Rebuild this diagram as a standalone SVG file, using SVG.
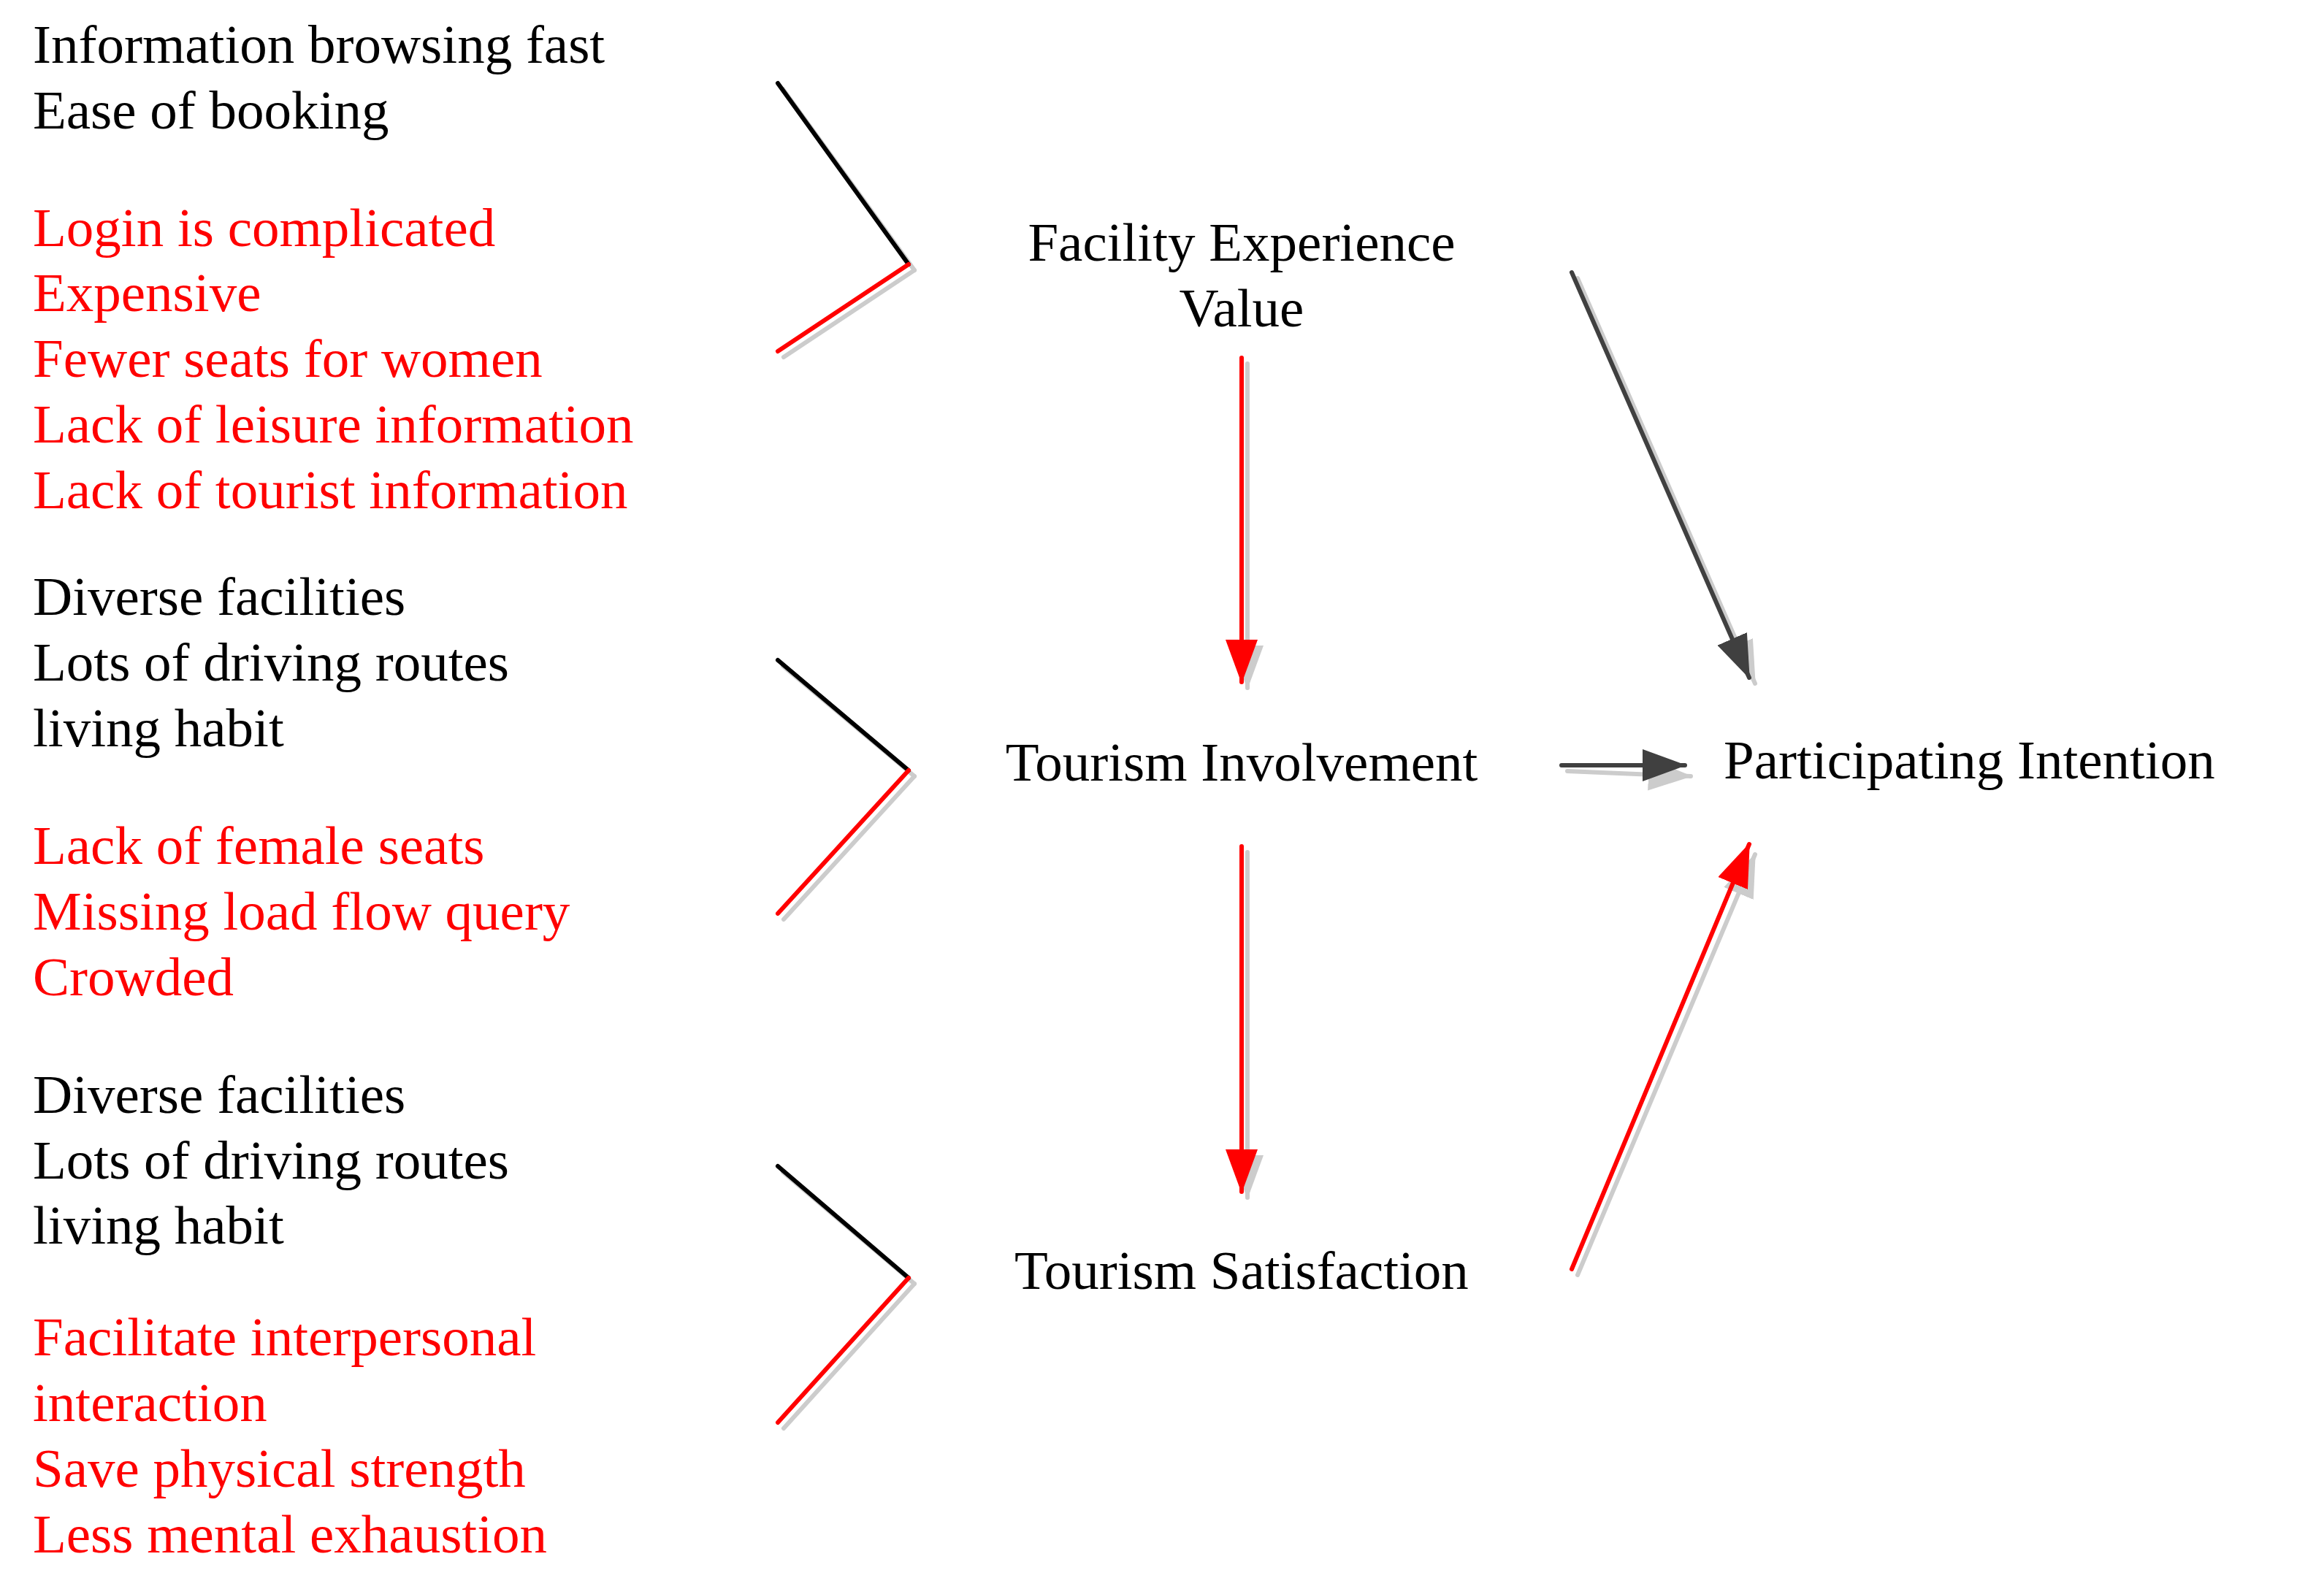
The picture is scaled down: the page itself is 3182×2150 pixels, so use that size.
<svg xmlns="http://www.w3.org/2000/svg" width="3182" height="2150" viewBox="0 0 3182 2150">
<style>
text{font-family:"Liberation Serif","Times New Roman",serif;font-size:75px}
.k{fill:#000}.r{fill:#ff0000}.c{text-anchor:middle}
.ln{fill:none;stroke-width:6;stroke-linecap:round}
.sh{stroke:#cccccc}.bk{stroke:#000}.rd{stroke:#ff0000}.dg{stroke:#404040}
</style>
<defs>
<marker id="hr" markerUnits="userSpaceOnUse" viewBox="0 0 60 44" refX="58" refY="22" markerWidth="60" markerHeight="44" orient="auto"><path d="M0,0 L60,22 L0,44 z" fill="#ff0000"/></marker>
<marker id="hd" markerUnits="userSpaceOnUse" viewBox="0 0 60 44" refX="58" refY="22" markerWidth="60" markerHeight="44" orient="auto"><path d="M0,0 L60,22 L0,44 z" fill="#404040"/></marker>
<marker id="hs" markerUnits="userSpaceOnUse" viewBox="0 0 60 44" refX="58" refY="22" markerWidth="60" markerHeight="44" orient="auto"><path d="M0,0 L60,22 L0,44 z" fill="#cccccc"/></marker>
</defs>
<g id="block1">
<text x="45" y="86" class="k">Information browsing fast</text>
<text x="45" y="176" class="k">Ease of booking</text>
<text x="45" y="337" class="r">Login is complicated</text>
<text x="45" y="426" class="r">Expensive</text>
<text x="45" y="516" class="r">Fewer seats for women</text>
<text x="45" y="606" class="r">Lack of leisure information</text>
<text x="45" y="696" class="r">Lack of tourist information</text>
</g>
<g id="block2">
<text x="45" y="842" class="k">Diverse facilities</text>
<text x="45" y="932" class="k">Lots of driving routes</text>
<text x="45" y="1022" class="k">living habit</text>
<text x="45" y="1183" class="r">Lack of female seats</text>
<text x="45" y="1273" class="r">Missing load flow query</text>
<text x="45" y="1363" class="r">Crowded</text>
</g>
<g id="block3">
<text x="45" y="1524" class="k">Diverse facilities</text>
<text x="45" y="1614" class="k">Lots of driving routes</text>
<text x="45" y="1703" class="k">living habit</text>
<text x="45" y="1856" class="r">Facilitate interpersonal</text>
<text x="45" y="1946" class="r">interaction</text>
<text x="45" y="2036" class="r">Save physical strength</text>
<text x="45" y="2126" class="r">Less mental exhaustion</text>
</g>
<g id="facility"><text x="1700" y="357" class="k c">Facility Experience</text><text x="1700" y="447" class="k c">Value</text></g>
<g id="involvement"><text x="1700" y="1069" class="k c">Tourism Involvement</text></g>
<g id="satisfaction"><text x="1700" y="1765" class="k c">Tourism Satisfaction</text></g>
<g id="intention"><text x="2360" y="1066" class="k">Participating Intention</text></g>
<g id="connectors">
<g class="ln sh">
<path d="M1072,122 L1252,370"/><path d="M1252,370 L1073,489"/>
<path d="M1072,912 L1252,1063"/><path d="M1252,1063 L1073,1259"/>
<path d="M1072,1605 L1252,1758"/><path d="M1252,1758 L1073,1956"/>
<path d="M1708,498 L1708,942" marker-end="url(#hs)"/>
<path d="M1708,1167 L1708,1640" marker-end="url(#hs)"/>
<path d="M2160,381 L2403,936" marker-end="url(#hs)"/>
<path d="M2146,1056 L2315,1063" marker-end="url(#hs)"/>
<path d="M2160,1746 L2403,1170" marker-end="url(#hs)"/>
</g>
<path class="ln bk" d="M1065,114 L1244,362"/><path class="ln rd" d="M1244,362 L1065,481"/>
<path class="ln bk" d="M1065,904 L1244,1055"/><path class="ln rd" d="M1244,1055 L1065,1251"/>
<path class="ln bk" d="M1065,1597 L1244,1750"/><path class="ln rd" d="M1244,1750 L1065,1948"/>
<path class="ln rd" d="M1700,490 L1700,934" marker-end="url(#hr)"/>
<path class="ln rd" d="M1700,1159 L1700,1632" marker-end="url(#hr)"/>
<path class="ln dg" d="M2152,373 L2395,928" marker-end="url(#hd)"/>
<path class="ln dg" d="M2138,1048 L2307,1048" marker-end="url(#hd)"/>
<path class="ln rd" d="M2152,1738 L2395,1156" marker-end="url(#hr)"/>
</g>
</svg>
